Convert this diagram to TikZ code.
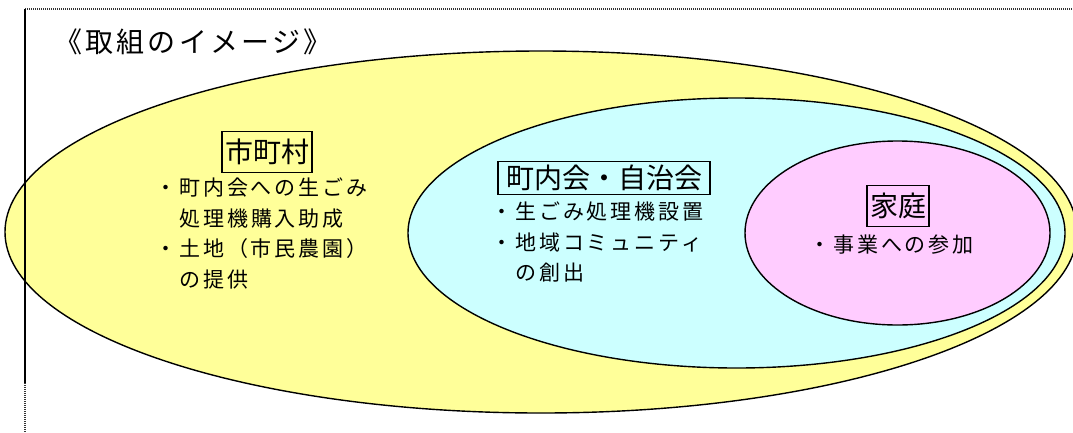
\documentclass[tikz,border=0pt]{standalone}
\usepackage{fontspec}
\setmainfont{Noto Sans CJK JP}
\newfontfamily\titlejp[LetterSpace=11.6]{Noto Sans CJK JP}
\newfontfamily\bodyjp[LetterSpace=14]{Noto Sans CJK JP}
\usetikzlibrary{shapes.geometric}
\definecolor{cityyel}{HTML}{FFFF99}
\definecolor{assoccyan}{HTML}{CCFFFF}
\definecolor{homepink}{HTML}{FFCCFF}
\tikzset{
  ring/.style={ellipse, draw=black, line width=1.4pt, inner sep=0pt},
  tag/.style={draw=black, line width=1.4pt, inner xsep=3pt, inner ysep=2pt, font=\fontsize{28}{30}\selectfont},
  body/.style={anchor=north west, align=left, inner sep=0pt, font={\bodyjp\fontsize{21}{30.5}\selectfont}},
  dotline/.style={line width=1.2pt, dash pattern=on 1pt off 1pt, color=black!80},
}
\begin{document}
\begin{tikzpicture}[x=1pt, y=-1pt]
  \useasboundingbox (0,0) rectangle (1073,432);
  \node[anchor=west, inner sep=0pt, font={\titlejp\fontsize{28}{30}\selectfont}] (title) at (54,42) {《取組のイメージ》};
  \node[ring, fill=cityyel, minimum width=1072pt, minimum height=362pt] (city) at (541,232) {};
  \node[ring, fill=assoccyan, minimum width=657pt, minimum height=270pt] (assoc) at (736.5,233) {};
  \node[ring, fill=homepink, minimum width=305pt, minimum height=184pt] (home) at (897.5,233) {};
  \draw[dotline] (25,9) -- (1073,9);
  \draw[line width=1.5pt] (25,9) -- (25,383);
  \draw[dotline] (25,383) -- (25,432);
  \node[tag, minimum height=41pt] (cityTag) at (267,152) {市町村};
  \node[tag, minimum width=212pt, minimum height=33pt] (assocTag) at (604,178) {町内会・自治会};
  \node[tag, minimum height=41pt] (homeTag) at (898,206) {家庭};
  \node[body] (cityTxt) at (155,178) {・町内会への生ごみ\\\hspace*{24pt}処理機購入助成\\・土地（市民農園）\\\hspace*{24pt}の提供};
  \node[body] (assocTxt) at (491,202) {・生ごみ処理機設置\\・地域コミュニティ\\\hspace*{24pt}の創出};
  \node[body] (homeTxt) at (809,235) {・事業への参加};
\end{tikzpicture}
\end{document}
